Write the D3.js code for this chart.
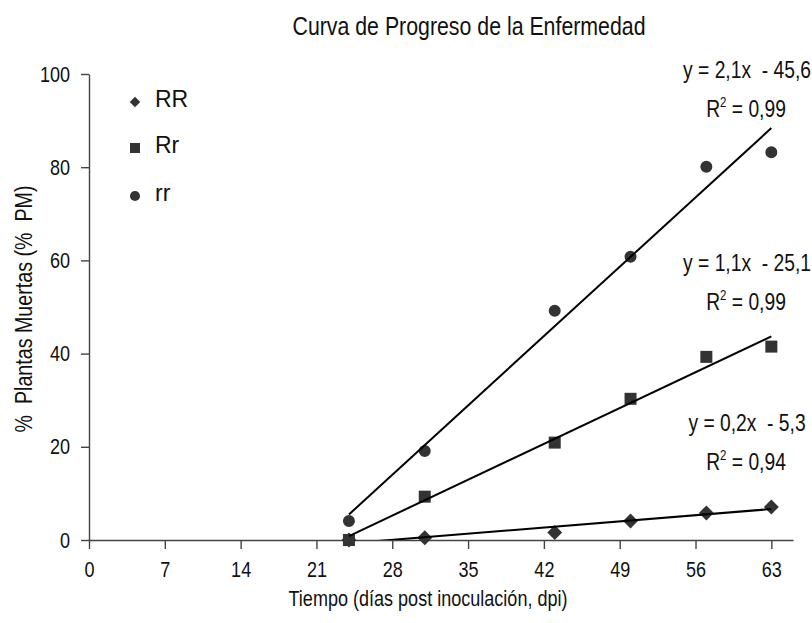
<!DOCTYPE html>
<html><head><meta charset="utf-8">
<script src="https://cdn.jsdelivr.net/npm/d3@7"></script>
<style>
body{margin:0;background:#fff}
text{font-family:"Liberation Sans",Arial,sans-serif;fill:#111}
</style>
</head><body>
<svg id="c" width="812" height="623"></svg>
<script>
// ---- data ----
const days = [24, 31, 43, 50, 57, 63];
const seriesNames = ["RR", "Rr", "rr"];
const valuesRR = [0, 0.5, 1.6, 4.1, 5.8, 7.1];
const valuesRr = [0, 9.3, 20.9, 30.3, 39.3, 41.5];
const valuesrr = [4.1, 19.1, 49.2, 60.8, 80.1, 83.2];
const xTickValues = [0, 7, 14, 21, 28, 35, 42, 49, 56, 63];
const yTickValues = [0, 20, 40, 60, 80, 100];
const equationLabels = ["y = 0,2x  - 5,3", "y = 1,1x  - 25,1", "y = 2,1x  - 45,6"];
const r2Labels = ["0,94", "0,99", "0,99"];
const titleText = "Curva de Progreso de la Enfermedad";
const xTitle = "Tiempo (días post inoculación, dpi)";
const yTitle = "%  Plantas Muertas (%  PM)";

// ---- layout ----
const NARROW = 0.82; // emulate a narrow sans face
const svg = d3.select("#c");
const x = d3.scaleLinear().domain([0, 65]).range([89, 793]);
const y = d3.scaleLinear().domain([0, 100]).range([540, 74]);
const markerColor = "#333";
const symbols = [
  d3.symbol().type(d3.symbolSquare).size(112),
  d3.symbol().type(d3.symbolSquare).size(144),
  d3.symbol().type(d3.symbolCircle).size(113)
];
const legSymbols = [
  d3.symbol().type(d3.symbolSquare).size(55),
  d3.symbol().type(d3.symbolSquare).size(100),
  d3.symbol().type(d3.symbolCircle).size(80)
];
const rot = [45, 0, 0];
const eqPos = [{x: 747, y: 431}, {x: 747, y: 271}, {x: 747, y: 78}];

const series = seriesNames.map((n, i) => ({
  name: n,
  values: [valuesRR, valuesRr, valuesrr][i].map((v, j) => ({d: days[j], v}))
}));

function linreg(pts) {
  const mx = d3.mean(pts, p => p.d), my = d3.mean(pts, p => p.v);
  const sxy = d3.sum(pts, p => (p.d - mx) * (p.v - my));
  const sxx = d3.sum(pts, p => (p.d - mx) ** 2);
  const b = sxy / sxx;
  return {b, a: my - b * mx};
}

function narrow(parent, px, py, size, anchor, str, rotate) {
  const t = parent.append("text")
    .attr("transform", `translate(${px},${py})` + (rotate ? ` rotate(${rotate})` : "") + ` scale(${NARROW},1)`)
    .attr("text-anchor", anchor).style("font-size", size + "px").style("white-space", "pre");
  if (str !== null) t.text(str);
  return t;
}

// title
narrow(svg, 469, 35, 26, "middle", titleText);

// axes
const xAxis = svg.append("g").attr("transform", "translate(0,540)")
  .call(d3.axisBottom(x).tickValues(xTickValues).tickSize(9).tickPadding(12).tickSizeOuter(0));
const yAxis = svg.append("g").attr("transform", "translate(89,0)")
  .call(d3.axisLeft(y).tickValues(yTickValues).tickSize(8).tickPadding(11).tickSizeOuter(0));
[xAxis, yAxis].forEach(g => {
  g.attr("font-family", null).attr("font-size", null);
  g.select(".domain").attr("stroke", "#444").attr("stroke-width", 1.4);
  g.selectAll(".tick line").attr("stroke", "#444").attr("stroke-width", 1.4);
  g.selectAll(".tick text").style("font-size", "22px").attr("fill", "#111");
});
xAxis.selectAll(".tick text").attr("transform", `scale(${NARROW},1)`);
yAxis.selectAll(".tick text").attr("x", -19 / NARROW).attr("transform", `scale(${NARROW},1)`);

// axis titles
narrow(svg, 428, 606, 22, "middle", xTitle);
narrow(svg, 32, 309, 24, "middle", yTitle, -90);

// clip
svg.append("clipPath").attr("id", "plot").append("rect")
  .attr("x", 89).attr("y", 74).attr("width", 704).attr("height", 466);

// markers
series.forEach((s, i) => {
  svg.append("g").selectAll("path").data(s.values).join("path")
    .attr("d", symbols[i])
    .attr("transform", p => `translate(${x(p.d)},${y(p.v)}) rotate(${rot[i]})`)
    .attr("fill", markerColor);
});

// trend lines
series.forEach((s, i) => {
  const r = linreg(s.values);
  const ext = d3.extent(s.values, p => p.d);
  svg.append("line").attr("clip-path", "url(#plot)")
    .attr("x1", x(ext[0])).attr("y1", y(r.a + r.b * ext[0]))
    .attr("x2", x(ext[1])).attr("y2", y(r.a + r.b * ext[1]))
    .attr("stroke", "#000").attr("stroke-width", 2);
});

// equation labels
series.forEach((s, i) => {
  narrow(svg, eqPos[i].x, eqPos[i].y, 23.5, "middle", equationLabels[i]);
  const t = narrow(svg, eqPos[i].x - 1, eqPos[i].y + 39, 23.5, "middle", null);
  t.append("tspan").text("R");
  t.append("tspan").attr("dy", -10).style("font-size", "14px").text("2");
  t.append("tspan").attr("dy", 10).text(" = " + r2Labels[i]);
});

// legend
const leg = svg.append("g");
const legY = [102, 148, 196];
seriesNames.forEach((n, i) => {
  leg.append("path").attr("d", legSymbols[i])
    .attr("transform", `translate(135,${legY[i]}) rotate(${rot[i]})`).attr("fill", markerColor);
  leg.append("text").attr("x", 155).attr("y", legY[i] + 5).style("font-size", "23px").text(n);
});
</script>
</body></html>
